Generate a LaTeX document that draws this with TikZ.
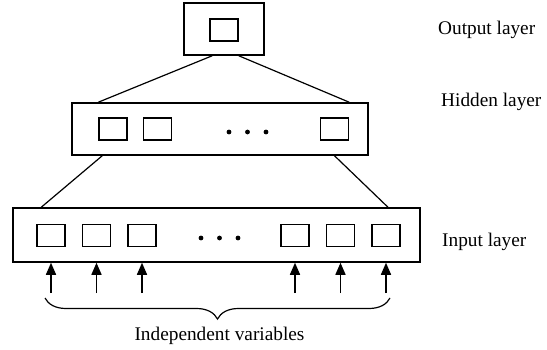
\documentclass[tikz,border=0pt]{standalone}
\usepackage{fontspec}
\setmainfont{Liberation Serif}
\usetikzlibrary{positioning,arrows.meta,decorations.pathreplacing}

\begin{document}
\begin{tikzpicture}[x=1pt, y=1pt,
    layer/.style={draw, line width=1.5pt, inner sep=0pt, minimum height=52pt},
    unit/.style={draw, line width=1.5pt, minimum width=28pt, minimum height=22pt, inner sep=0pt},
    lbl/.style={inner sep=0pt, font=\fontsize{19.3}{23}\selectfont},
    dot/.style={circle, fill, inner sep=0pt, minimum size=4.8pt},
    link/.style={line width=1.2pt},
    feed/.style={line width=1.5pt, -{Triangle[length=12pt, width=10pt]}}]
    \useasboundingbox (0,0) rectangle (547,349);

    % Nodes
    \node (out) [layer, minimum width=80pt] at (224,320) {};
    \node (o1) [unit] at (224,319) {};

    \node (hid) [layer, minimum width=296pt] at (220,220) {};
    \node (h1) [unit] at (113,220) {};
    \node (h2) [unit, right=15pt of h1] {};
    \node (h3) [unit] at (334.5,220) {};
    \foreach \i in {0,1,2}
        \node (hd\i) [dot] at (229+18.5*\i,217) {};

    \node (inp) [layer, minimum width=407pt, minimum height=54pt] at (216.5,114) {};
    \node (i1) [unit] at (51,113.5) {};
    \node (i2) [unit, right=16pt of i1] {};
    \node (i3) [unit, right=16pt of i2] {};
    \node (i6) [unit] at (386,113.5) {};
    \node (i5) [unit, left=16pt of i6] {};
    \node (i4) [unit, left=16pt of i5] {};
    \foreach \i in {0,1,2}
        \node (id\i) [dot] at (201+18.5*\i,111) {};

    \node (lout) [lbl, anchor=base west] at (438,314.7) {Output layer};
    \node (lhid) [lbl, anchor=base west] at (441,243) {Hidden layer};
    \node (linp) [lbl, anchor=base west] at (442,102.3) {Input layer};
    \node (vars) [lbl, anchor=base] at (219.5,8.3) {Independent variables};

    % Connections
    \draw[link] ([xshift=3pt]o1.west |- out.south) -- (h1.west |- hid.north);
    \draw[link] (o1.east |- out.south) -- (h3.east |- hid.north);
    \draw[link] ([xshift=4pt]h1.west |- hid.south) -- ([xshift=5pt]i1.west |- inp.north);
    \draw[link] (h3 |- hid.south) -- ([xshift=2pt]i6 |- inp.north);

    % Arrows
    \coordinate (base) at (0,56);
    \foreach \i in {1,...,6} {
        \coordinate (a\i) at (i\i |- base);
        \draw[feed] (a\i) -- (a\i |- inp.south);
    }

    % Brace
    \coordinate (b1) at (45,51);
    \coordinate (b2) at (390,51);
    \draw[line width=1.2pt, decorate, decoration={brace, mirror, amplitude=21pt}] (b1) -- (b2);
\end{tikzpicture}
\end{document}
